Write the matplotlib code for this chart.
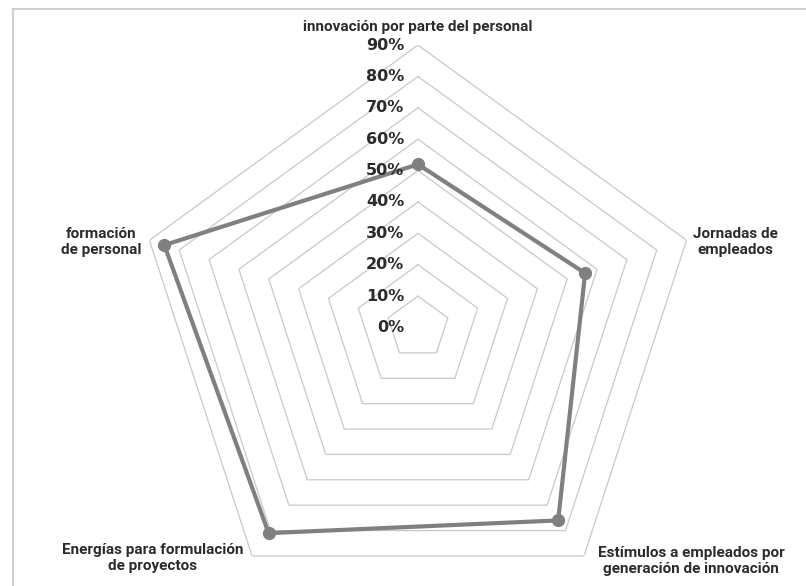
import numpy as np
import matplotlib
matplotlib.use("Agg")
import matplotlib.pyplot as plt
from matplotlib.lines import Line2D

categories = [
    "innovación por parte del personal",
    "Jornadas de\nempleados",
    "Estímulos a empleados por\ngeneración de innovación",
    "Energías para formulación\nde proyectos",
    "formación\nde personal",
]
values = [52, 56, 76, 81, 85]
ticks = [0, 10, 20, 30, 40, 50, 60, 70, 80, 90]
tick_labels = [f"{t}%" for t in ticks]

W, H = 806, 586
fig = plt.figure(figsize=(W / 100, H / 100), dpi=100)
fig.patch.set_facecolor("white")

cx, cy, R = 418, 327.5, 282.4
ax = fig.add_axes([(cx - R) / W, (H - cy - R) / H, 2 * R / W, 2 * R / H],
                  projection="polar")
ax.set_theta_offset(np.pi / 2)
ax.set_theta_direction(-1)
ax.set_ylim(0, 90)
ax.grid(False)
ax.spines["polar"].set_visible(False)
ax.set_xticks([])
ax.set_yticks([])
ax.patch.set_alpha(0)

n = len(categories)
theta = np.linspace(0, 2 * np.pi, n, endpoint=False)
theta_c = np.append(theta, theta[0])

for t in ticks[1:]:
    ax.plot(theta_c, [t] * (n + 1), color="#c9c9c9", lw=0.9, zorder=1)

vals_c = np.append(values, values[0])
ax.plot(theta_c, vals_c, color="#808080", lw=3, zorder=3)
ax.plot(theta, values, "o", color="#808080", ms=8.5, zorder=4)

for t, lab in zip(ticks, tick_labels):
    ax.annotate(lab, xy=(0, t), xytext=(-10, 0), textcoords="offset points",
                ha="right", va="center", fontsize=11.5, fontweight="bold",
                family="DejaVu Sans", color="#2b2b2b", zorder=5)

cat_pos = [
    (418, 27, "center"),
    (735, 242, "center"),
    (691, 561, "center"),
    (153, 558, "center"),
    (101, 242, "center"),
]
for lab, (px, py, ha) in zip(categories, cat_pos):
    fig.text(px / W, 1 - py / H, lab, ha=ha, va="center", fontsize=11,
             fontweight="bold", family=["Roboto", "DejaVu Sans"],
             color="#2b2b2b", linespacing=1.1)

fig.add_artist(Line2D([13 / W, 1], [1 - 9 / H, 1 - 9 / H], transform=fig.transFigure,
                      color="#cfcfcf", lw=1.5))
fig.add_artist(Line2D([13 / W, 13 / W], [0, 1 - 9 / H], transform=fig.transFigure,
                      color="#cfcfcf", lw=1.5))

fig.savefig("out.png", dpi=100)
